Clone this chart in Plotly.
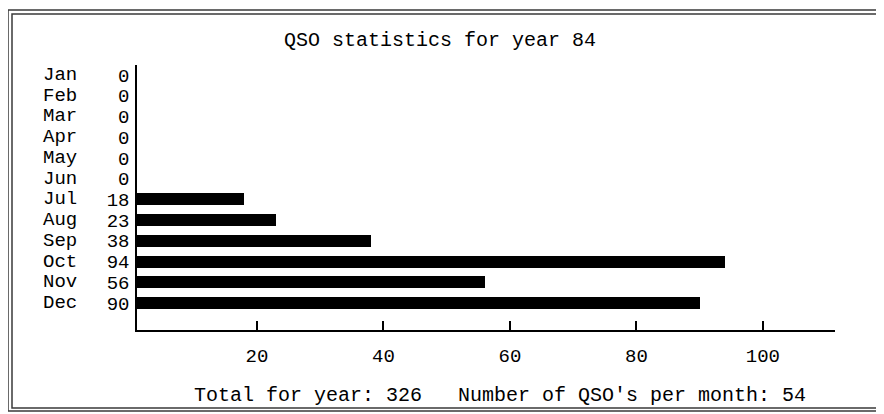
import plotly.graph_objects as go

months = ["Jan", "Feb", "Mar", "Apr", "May", "Jun",
          "Jul", "Aug", "Sep", "Oct", "Nov", "Dec"]
qsos = [0, 0, 0, 0, 0, 0, 18, 23, 38, 94, 56, 90]
x_ticks = [20, 40, 60, 80, 100]
title_text = "QSO statistics for year 84"
total_for_year = 326
per_month = 54

FONT = "Courier New, Liberation Mono, DejaVu Sans Mono, monospace"
# the page body adds an 8px margin; work in reference pixels and shift
OFF = 8
W, H = 884 - OFF, 414 - OFF
L, R, T, B = 137 - OFF, 835 - OFF, 65 - OFF, 330 - OFF
PW, PH = R - L, B - T


def px(x):
    return (x - OFF - L) / PW


def py(y):
    return (B - (y - OFF)) / PH


fig = go.Figure()
fig.add_trace(go.Bar(
    x=qsos, y=months, orientation="h",
    marker=dict(color="black", line=dict(width=0)),
    width=0.58, hoverinfo="x+y",
))

annotations = [
    dict(text=m, x=px(41), xref="paper", y=m, yref="y", xanchor="left",
         yanchor="middle", showarrow=False, font=dict(family=FONT, size=19, color="black"))
    for m in months
]
annotations.append(dict(text=title_text, x=px(440), xref="paper", y=py(40), yref="paper",
                        xanchor="center", yanchor="middle", showarrow=False,
                        font=dict(family=FONT, size=20, color="black")))
annotations.append(dict(
    text=f"Total for year: {total_for_year}   Number of QSO's per month: {per_month}",
    x=px(500), xref="paper", y=py(395), yref="paper", xanchor="center", yanchor="middle",
    showarrow=False, font=dict(family=FONT, size=20, color="black")))

frame_col = "#3a3a3a"
shapes = [
    dict(type="rect", xref="paper", yref="paper", x0=px(8), x1=px(882), y0=py(10), y1=py(411),
         line=dict(color=frame_col, width=1.5)),
    dict(type="rect", xref="paper", yref="paper", x0=px(12), x1=px(879), y0=py(14), y1=py(408),
         line=dict(color=frame_col, width=1.5)),
]

fig.update_layout(
    width=W, height=H,
    margin=dict(l=L, r=W - R, t=T, b=H - B, pad=0),
    paper_bgcolor="white", plot_bgcolor="white",
    showlegend=False,
    font=dict(family=FONT, size=20, color="black"),
    annotations=annotations,
    shapes=shapes,
    bargap=0,
)
fig.update_xaxes(
    range=[1.03, 111.4], tickvals=x_ticks, ticks="inside", ticklen=9, tickwidth=1.5,
    tickcolor="black", showline=True, linecolor="black", linewidth=1.5,
    showgrid=False, zeroline=False, ticklabelstandoff=7,
    tickfont=dict(family=FONT, size=19, color="black"),
)
fig.update_yaxes(
    type="category", categoryorder="array", categoryarray=months,
    range=[12.3, -0.48], tickvals=months, ticktext=[str(v) for v in qsos],
    ticks="", showline=True, linecolor="black", linewidth=1.5,
    showgrid=False, zeroline=False, ticklabelstandoff=2,
    tickfont=dict(family=FONT, size=19, color="black"),
)

fig.write_html("out.html")
